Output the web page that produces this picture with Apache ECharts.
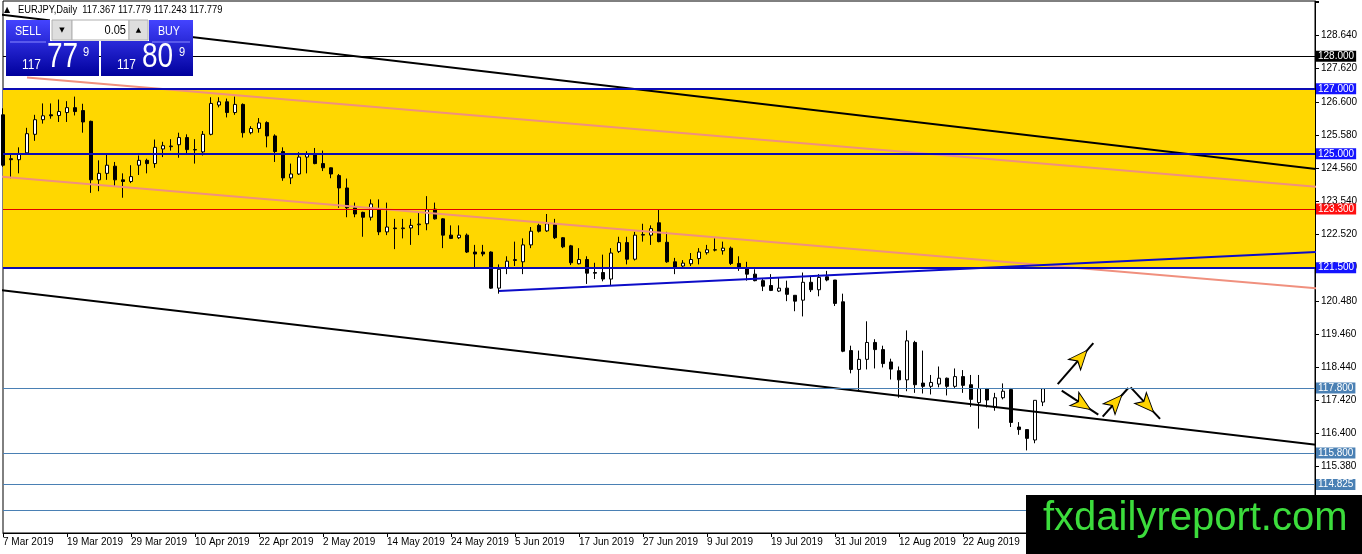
<!DOCTYPE html>
<html>
<head>
<meta charset="utf-8">
<title>EURJPY Daily</title>
<script src="https://cdn.jsdelivr.net/npm/echarts@6/dist/echarts.min.js"></script>
<style>
  html, body { margin: 0; padding: 0; background: #fff; }
  #chart { width: 1362px; height: 554px; }
</style>
</head>
<body>
<div id="chart"></div>
<script>
// daily bars from 7 Mar 2019, each row is [open, high, low, close]
const bars = [
  [126.20, 126.40, 124.60, 124.65], [124.85, 125.00, 124.25, 124.82], [124.82, 125.20, 124.40, 125.00],
  [125.03, 125.80, 125.00, 125.62], [125.60, 126.20, 125.40, 126.05], [126.05, 126.55, 125.93, 126.17],
  [126.20, 126.55, 126.08, 126.17], [126.18, 126.67, 125.98, 126.30], [126.27, 126.62, 125.98, 126.42],
  [126.42, 126.76, 126.18, 126.30], [126.33, 126.54, 125.65, 125.98], [126.00, 126.02, 123.80, 124.20],
  [124.20, 124.80, 123.85, 124.40], [124.40, 125.00, 124.20, 124.65], [124.62, 124.75, 123.98, 124.20],
  [124.20, 124.40, 123.65, 124.15], [124.15, 124.65, 124.10, 124.30], [124.65, 124.95, 124.35, 124.80],
  [124.80, 124.85, 124.40, 124.70], [124.70, 125.44, 124.57, 125.20], [125.15, 125.37, 124.90, 125.25],
  [125.22, 125.45, 125.10, 125.24], [125.28, 125.65, 124.88, 125.50], [125.50, 125.60, 125.00, 125.13],
  [125.13, 125.45, 124.70, 125.12], [125.06, 125.70, 124.95, 125.60], [125.60, 126.74, 125.57, 126.55],
  [126.50, 126.74, 126.43, 126.60], [126.60, 126.70, 126.12, 126.27], [126.27, 126.76, 126.20, 126.52],
  [126.52, 126.55, 125.50, 125.65], [125.65, 125.85, 125.60, 125.78], [125.78, 126.10, 125.65, 125.95],
  [125.96, 126.00, 125.20, 125.55], [125.55, 125.60, 124.75, 125.07], [125.07, 125.20, 124.17, 124.26],
  [124.26, 124.70, 124.07, 124.38], [124.38, 125.05, 124.35, 124.90], [124.90, 125.08, 124.40, 125.00],
  [125.00, 125.18, 124.68, 124.70], [124.70, 125.10, 124.47, 124.57], [124.57, 124.58, 124.25, 124.38],
  [124.33, 124.38, 123.34, 123.95], [123.95, 124.24, 123.05, 123.34], [123.34, 123.50, 123.05, 123.15],
  [123.20, 123.22, 122.45, 123.05], [123.05, 123.60, 122.95, 123.46], [123.28, 123.60, 122.50, 122.60],
  [122.60, 123.50, 122.50, 122.75], [122.72, 123.00, 122.07, 122.70], [122.70, 123.00, 122.40, 122.72],
  [122.72, 123.00, 122.20, 122.80], [122.82, 123.20, 122.50, 122.84], [122.85, 123.70, 122.65, 123.28],
  [123.30, 123.50, 122.98, 123.00], [123.00, 123.02, 122.10, 122.50], [122.50, 122.80, 122.38, 122.40],
  [122.42, 122.80, 122.38, 122.50], [122.50, 122.55, 121.95, 121.98], [121.98, 122.20, 121.50, 121.92],
  [121.98, 122.20, 121.85, 121.92], [121.98, 122.00, 120.85, 120.87], [120.87, 121.60, 120.70, 121.45],
  [121.50, 121.85, 121.30, 121.70], [121.72, 122.30, 121.55, 121.75], [121.68, 122.40, 121.30, 122.20],
  [122.20, 122.75, 122.10, 122.62], [122.80, 122.85, 122.58, 122.62], [122.63, 123.15, 122.60, 122.85],
  [122.82, 123.00, 122.38, 122.42], [122.42, 122.44, 122.10, 122.14], [122.17, 122.20, 121.58, 121.65],
  [121.62, 122.10, 121.60, 121.75], [121.75, 121.85, 121.00, 121.33], [121.35, 121.65, 121.15, 121.33],
  [121.35, 121.90, 121.08, 121.15], [121.15, 122.10, 120.96, 121.95], [122.00, 122.45, 121.95, 122.27],
  [122.27, 122.45, 121.60, 121.76], [121.76, 122.60, 121.72, 122.50], [122.50, 122.85, 122.30, 122.52],
  [122.50, 122.80, 122.20, 122.70], [122.88, 123.30, 122.28, 122.30], [122.28, 122.60, 121.65, 121.68],
  [121.68, 121.80, 121.30, 121.50], [121.55, 121.73, 121.52, 121.64], [121.62, 121.95, 121.55, 121.75],
  [121.78, 122.10, 121.60, 121.98], [121.96, 122.20, 121.90, 122.05], [122.05, 122.40, 122.00, 122.04],
  [122.02, 122.30, 121.90, 122.10], [122.10, 122.15, 121.58, 121.63], [121.63, 121.85, 121.40, 121.50],
  [121.50, 121.68, 121.10, 121.30], [121.30, 121.45, 121.08, 121.10], [121.10, 121.18, 120.78, 120.93],
  [120.95, 121.30, 120.78, 120.80], [120.78, 121.20, 120.75, 120.87], [120.87, 121.10, 120.47, 120.68],
  [120.65, 120.65, 120.16, 120.47], [120.50, 121.35, 120.00, 121.05], [121.05, 121.25, 120.75, 120.82],
  [120.82, 121.30, 120.62, 121.20], [121.22, 121.40, 121.08, 121.12], [121.12, 121.12, 120.32, 120.40],
  [120.45, 120.70, 118.90, 118.93], [118.95, 119.10, 118.25, 118.37], [118.37, 118.95, 117.70, 118.68],
  [118.68, 119.85, 118.37, 119.20], [119.20, 119.30, 118.40, 118.98], [118.98, 119.10, 118.43, 118.55],
  [118.60, 118.70, 118.06, 118.38], [118.33, 118.46, 117.50, 118.05], [118.05, 119.57, 117.70, 119.25],
  [119.20, 119.25, 117.65, 117.90], [117.95, 118.95, 117.63, 117.85], [117.85, 118.20, 117.60, 117.97],
  [117.92, 118.46, 117.82, 118.10], [118.10, 118.12, 117.57, 117.85], [117.85, 118.40, 117.80, 118.15],
  [118.15, 118.35, 117.65, 117.88], [117.90, 118.20, 117.22, 117.45], [117.35, 118.20, 116.55, 117.78],
  [117.78, 117.80, 117.20, 117.43], [117.20, 117.65, 117.10, 117.50], [117.50, 117.94, 117.45, 117.70],
  [117.75, 117.80, 116.60, 116.74], [116.60, 116.75, 116.36, 116.52], [116.52, 116.52, 115.88, 116.25],
  [116.20, 117.42, 116.10, 117.42], [117.367, 117.779, 117.243, 117.779]
];

// a date label every 8th bar
const tickLabels = [
  '7 Mar 2019', '19 Mar 2019', '29 Mar 2019', '10 Apr 2019', '22 Apr 2019', '2 May 2019',
  '14 May 2019', '24 May 2019', '5 Jun 2019', '17 Jun 2019', '27 Jun 2019', '9 Jul 2019',
  '19 Jul 2019', '31 Jul 2019', '12 Aug 2019', '22 Aug 2019', '3 Sep 2019'
];
const barSlots = 165; // bars plus the empty shift space on the right

// horizontal levels and their kind
const levelPrices = [128.000, 127.000, 125.000, 123.300, 121.500, 117.800, 115.800, 114.825, 114.050];
const levelKinds = ['black', 'blue', 'blue', 'red', 'blue', 'steel', 'steel', 'steel', 'steel'];

// drawn trend lines, [bar index, price]
const upperChannel = [[-1, 129.30], [165, 124.51]];
const lowerChannel = [[-1, 120.83], [165, 116.03]];
const pinkUpper = [[3, 127.35], [165, 123.97]];
const pinkLower = [[-1, 124.31], [165, 120.85]];
const blueSupport = [[62, 120.78], [165, 121.99]];

// arrows, [start, tip]
const arrows = [
  [[131.84, 117.92], [136.29, 119.18]],
  [[132.34, 117.72], [136.91, 116.98]],
  [[137.46, 116.92], [140.66, 117.80]],
  [[140.96, 117.82], [144.63, 116.85]]
];
const arrowAngles = [49.0, -33.3, 47.9, -46.9]; // screen direction of each arrow, degrees

const lastQuote = ['117.367', '117.779', '117.243', '117.779'];

const FONT = "'Liberation Sans', Arial, sans-serif";
const levelStyle = {
  black: { line: '#000000', width: 1, bg: '#000000' },
  blue: { line: '#0c0cb4', width: 2, bg: '#1414ff' },
  red: { line: '#e00000', width: 1, bg: '#ff1010' },
  steel: { line: '#4a80b4', width: 1, bg: '#4a80b4' }
};

const chart = echarts.init(document.getElementById('chart'));

const slots = Array.from({ length: barSlots }, (_, i) => String(i));

function trendSeries(points, color, width) {
  return {
    type: 'line', xAxisIndex: 1, data: points, symbol: 'none', silent: true, z: 4,
    lineStyle: { color: color, width: width }
  };
}

const arrowLines = arrows.map(a => trendSeries(a, '#000', 2));
const arrowHeads = {
  type: 'scatter', xAxisIndex: 1, silent: true, z: 6,
  symbol: 'arrow', symbolSize: [12, 19],
  itemStyle: { color: '#ffd400', borderColor: '#000', borderWidth: 1, opacity: 1 },
  data: arrows.map((a, k) => {
    const ang = arrowAngles[k] * Math.PI / 180;
    return {
      value: a[1],
      symbolRotate: arrowAngles[k] - 90,
      symbolOffset: [-Math.cos(ang) * 9.5, Math.sin(ang) * 9.5]
    };
  })
};

const levelLines = levelPrices.map((p, k) => {
  const s = levelStyle[levelKinds[k]];
  return {
    yAxis: p,
    lineStyle: { color: s.line, width: s.width, type: 'solid' },
    label: {
      show: true, position: 'end', distance: 1, formatter: p.toFixed(3),
      color: '#fff', backgroundColor: s.bg, padding: [1, 2, 0, 2],
      fontSize: 10, fontFamily: FONT
    }
  };
});

// MT4 one-click trading panel
const blueFill = {
  type: 'linear', x: 0, y: 0, x2: 0, y2: 1,
  colorStops: [{ offset: 0, color: '#4444ff' }, { offset: 1, color: '#00009c' }]
};
function txt(x, y, text, size, color, align, squeeze, family) {
  return {
    type: 'text', x: x, y: y, z: 101, scaleX: squeeze || 1,
    style: {
      text: text, fill: color, fontSize: size, fontFamily: family || FONT,
      textAlign: align || 'left', textVerticalAlign: 'middle'
    }
  };
}
const panel = [
  { type: 'rect', z: 100, shape: { x: 6, y: 20, width: 93, height: 56 }, style: { fill: blueFill } },
  { type: 'rect', z: 100, shape: { x: 101, y: 20, width: 92, height: 56 }, style: { fill: blueFill } },
  { type: 'rect', z: 100, shape: { x: 50, y: 19, width: 99, height: 22 }, style: { fill: '#ffffff' } },
  { type: 'rect', z: 100, shape: { x: 52, y: 20, width: 20, height: 20 }, style: { fill: '#dedede', stroke: '#b0b0b0' } },
  { type: 'rect', z: 100, shape: { x: 72, y: 20, width: 57, height: 20 }, style: { fill: '#ffffff', stroke: '#b0b0b0' } },
  { type: 'rect', z: 100, shape: { x: 129, y: 20, width: 19, height: 20 }, style: { fill: '#dedede', stroke: '#b0b0b0' } },
  { type: 'line', z: 101, shape: { x1: 10, y1: 42, x2: 46, y2: 42 }, style: { stroke: '#8a8aff', lineWidth: 1 } },
  { type: 'line', z: 101, shape: { x1: 152, y1: 42, x2: 190, y2: 42 }, style: { stroke: '#8a8aff', lineWidth: 1 } },
  txt(15, 31, 'SELL', 13, '#fff', 'left', 0.82),
  txt(158, 31, 'BUY', 13, '#fff', 'left', 0.82),
  txt(126, 30, '0.05', 13, '#000', 'right', 0.85),
  txt(62, 30, '\u25BC', 7, '#000', 'center', 1, 'DejaVu Sans'),
  txt(138.5, 30, '\u25B2', 7, '#000', 'center', 1, 'DejaVu Sans'),
  txt(22, 65, '117', 14, '#fff', 'left', 0.85),
  txt(47, 57.5, '77', 35, '#fff', 'left', 0.8),
  txt(83, 52.5, '9', 13, '#fff', 'left', 0.85),
  txt(117, 65, '117', 14, '#fff', 'left', 0.85),
  txt(142, 57.5, '80', 35, '#fff', 'left', 0.8),
  txt(179, 52.5, '9', 13, '#fff', 'left', 0.85)
];

const header = [
  txt(4, 10, '\u25B2', 8, '#000', 'left', 1, 'DejaVu Sans'),
  txt(18, 10, 'EURJPY,Daily  ' + lastQuote.join(' '), 11, '#000', 'left', 0.85)
];

const watermark = [
  { type: 'rect', z: 100, shape: { x: 1026, y: 495, width: 336, height: 59 }, style: { fill: '#000' } },
  {
    type: 'text', x: 1043, y: 519, z: 101,
    style: {
      text: 'fxdailyreport.com', fill: '#3cdc3c', fontSize: 40,
      fontFamily: "'Liberation Sans', Arial, sans-serif", textVerticalAlign: 'middle'
    }
  }
];

chart.setOption({
  animation: false,
  backgroundColor: '#ffffff',
  grid: {
    left: 3, right: 47, top: 1, bottom: 21, show: true,
    borderColor: '#000', borderWidth: 1, outerBoundsMode: 'none'
  },
  xAxis: [{
    type: 'category', data: slots, boundaryGap: false,
    axisLine: { onZero: false, lineStyle: { color: '#000', width: 1 } },
    axisTick: { interval: 7, length: 4, lineStyle: { color: '#000' } },
    axisLabel: {
      interval: 7, align: 'left', margin: 4, color: '#000', fontSize: 10, fontFamily: FONT,
      formatter: (v, i) => tickLabels[i / 8] || ''
    },
    splitLine: { show: false }
  }, {
    // same span as the bars, used for drawn objects
    type: 'value', min: 0, max: barSlots - 1, show: false,
    axisLine: { onZero: false }
  }],
  yAxis: {
    type: 'value', position: 'right', min: 113.34, max: 129.70, interval: 1.02,
    axisLine: { show: true, onZero: false, lineStyle: { color: '#000' } },
    axisTick: { show: true, length: 4, lineStyle: { color: '#000' } },
    axisLabel: {
      margin: 6, color: '#000', fontSize: 10, fontFamily: FONT,
      formatter: v => (v < 114 || v > 129) ? '' : v.toFixed(3)
    },
    splitLine: { show: false }
  },
  series: [
    {
      // yellow zone + horizontal levels
      type: 'line', data: [], silent: true,
      markArea: {
        silent: true, itemStyle: { color: '#ffd700' },
        data: [[{ yAxis: 121.5 }, { yAxis: 127.0 }]]
      },
      markLine: { silent: true, symbol: 'none', z: 5, data: levelLines }
    },
    {
      type: 'candlestick', silent: true, clip: true, z: 3, barWidth: 4,
      data: bars.map(b => [b[0], b[3], b[2], b[1]]),
      itemStyle: { color: '#ffffff', color0: '#000000', borderColor: '#000000', borderColor0: '#000000', borderWidth: 1 }
    },
    trendSeries(upperChannel, '#000', 2),
    trendSeries(lowerChannel, '#000', 2),
    trendSeries(pinkUpper, '#f0907e', 2),
    trendSeries(pinkLower, '#f0907e', 2),
    trendSeries(blueSupport, '#0c0cc8', 2),
    ...arrowLines,
    arrowHeads
  ],
  graphic: [...header, ...panel, ...watermark]
});
</script>
</body>
</html>
